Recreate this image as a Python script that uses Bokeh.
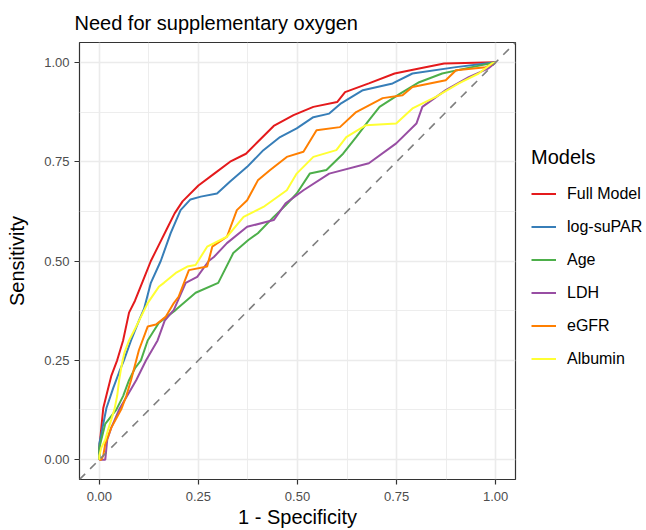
from bokeh.plotting import figure
from bokeh.layouts import row
from bokeh.models import FixedTicker, NumeralTickFormatter, Legend, LegendItem, Slope, Range1d
from bokeh.embed import file_html
from bokeh.resources import INLINE

title_text = "Need for supplementary oxygen"
x_label = "1 - Specificity"
y_label = "Sensitivity"
legend_title = "Models"
models = ["Full Model", "log-suPAR", "Age", "LDH", "eGFR", "Albumin"]
colors = ["#E41A1C", "#377EB8", "#4DAF4A", "#984EA3", "#FF7F00", "#FFFF33"]
tick_values = [0.0, 0.25, 0.5, 0.75, 1.0]
minor_values = [0.125, 0.375, 0.625, 0.875]

full_fpr = [0, 0, 0.005, 0.01, 0.02, 0.03, 0.045, 0.06, 0.075, 0.09, 0.11, 0.13, 0.15, 0.17, 0.19, 0.21,
            0.25, 0.29, 0.33, 0.37, 0.40, 0.44, 0.49, 0.54, 0.60, 0.62, 0.68, 0.745, 0.81, 0.87, 1.0]
full_tpr = [0, 0.03, 0.08, 0.13, 0.17, 0.21, 0.25, 0.30, 0.37, 0.40, 0.45, 0.50, 0.54, 0.58, 0.62, 0.65,
            0.69, 0.72, 0.75, 0.77, 0.80, 0.84, 0.867, 0.888, 0.90, 0.925, 0.947, 0.972, 0.985, 0.997, 1.0]

supar_fpr = [0, 0, 0.008, 0.018, 0.035, 0.05, 0.062, 0.08, 0.10, 0.113, 0.13, 0.155, 0.18, 0.205, 0.23,
             0.256, 0.297, 0.33, 0.373, 0.414, 0.456, 0.498, 0.54, 0.58, 0.61, 0.665, 0.74, 0.79, 0.90, 0.975, 1.0]
supar_tpr = [0, 0.04, 0.08, 0.13, 0.18, 0.22, 0.25, 0.30, 0.35, 0.38, 0.445, 0.50, 0.57, 0.628, 0.655,
             0.662, 0.67, 0.70, 0.737, 0.779, 0.812, 0.834, 0.862, 0.871, 0.897, 0.93, 0.947, 0.972, 0.988, 0.997, 1.0]

age_fpr = [0, 0, 0.005, 0.015, 0.043, 0.06, 0.075, 0.09, 0.105, 0.122, 0.15, 0.193, 0.243, 0.30, 0.338,
           0.376, 0.40, 0.44, 0.47, 0.498, 0.531, 0.573, 0.615, 0.648, 0.68, 0.707, 0.757, 0.807, 0.865, 0.94, 1.0]
age_tpr = [0, 0.03, 0.05, 0.09, 0.126, 0.16, 0.20, 0.23, 0.25, 0.30, 0.344, 0.377, 0.42, 0.445, 0.52,
           0.553, 0.57, 0.611, 0.64, 0.67, 0.72, 0.729, 0.77, 0.812, 0.854, 0.888, 0.92, 0.95, 0.972, 0.988, 1.0]

ldh_fpr = [0, 0.015, 0.018, 0.02, 0.03, 0.05, 0.07, 0.093, 0.118, 0.147, 0.165, 0.188, 0.218, 0.247, 0.276,
           0.289, 0.322, 0.373, 0.44, 0.47, 0.515, 0.58, 0.68, 0.749, 0.80, 0.815, 0.874, 0.932, 0.982, 1.0]
ldh_tpr = [0, 0, 0.03, 0.05, 0.08, 0.126, 0.16, 0.20, 0.25, 0.30, 0.35, 0.377, 0.445, 0.46, 0.50,
           0.51, 0.545, 0.586, 0.603, 0.645, 0.678, 0.72, 0.746, 0.796, 0.846, 0.888, 0.93, 0.963, 0.985, 1.0]

egfr_fpr = [0, 0.005, 0.01, 0.015, 0.03, 0.055, 0.068, 0.08, 0.10, 0.122, 0.143, 0.168, 0.188, 0.20, 0.226,
            0.272, 0.285, 0.322, 0.347, 0.373, 0.40, 0.431, 0.473, 0.515, 0.548, 0.607, 0.648, 0.715, 0.765,
            0.79, 0.874, 0.90, 0.975, 1.0]
egfr_tpr = [0, 0, 0.01, 0.04, 0.08, 0.126, 0.16, 0.20, 0.276, 0.335, 0.34, 0.36, 0.394, 0.41, 0.477,
            0.486, 0.536, 0.561, 0.628, 0.653, 0.703, 0.729, 0.762, 0.775, 0.829, 0.837, 0.875, 0.91, 0.917,
            0.938, 0.955, 0.98, 0.988, 1.0]

alb_fpr = [0, 0, 0.005, 0.015, 0.022, 0.03, 0.038, 0.045, 0.05, 0.055, 0.059, 0.063, 0.075, 0.093, 0.122,
           0.15, 0.163, 0.193, 0.222, 0.243, 0.272, 0.322, 0.364, 0.414, 0.473, 0.498, 0.54, 0.598, 0.623,
           0.673, 0.749, 0.79, 0.849, 0.907, 0.957, 0.99, 1.0]
alb_tpr = [0, 0.01, 0.03, 0.05, 0.075, 0.10, 0.126, 0.16, 0.20, 0.23, 0.25, 0.268, 0.30, 0.335, 0.394,
           0.435, 0.445, 0.47, 0.486, 0.49, 0.536, 0.561, 0.611, 0.636, 0.678, 0.72, 0.762, 0.779, 0.812,
           0.842, 0.846, 0.884, 0.913, 0.947, 0.972, 0.997, 1.0]

series = [(full_fpr, full_tpr), (supar_fpr, supar_tpr), (age_fpr, age_tpr),
          (ldh_fpr, ldh_tpr), (egfr_fpr, egfr_tpr), (alb_fpr, alb_tpr)]

FONT = "Liberation Sans"

p = figure(width=521, height=530, x_range=(-0.05, 1.05), y_range=(-0.05, 1.05),
           toolbar_location=None, output_backend="svg",
           min_border_left=79, min_border_right=6, min_border_top=42, min_border_bottom=51,
           background_fill_color="white", border_fill_color="white")

p.title.text = title_text
p.title.text_font = FONT
p.title.text_font_size = "20px"
p.title.text_font_style = "normal"
p.title.text_color = "black"
p.title.align = "left"
p.title.vertical_align = "bottom"
p.title.standoff = 18
p.title.offset = -5

p.outline_line_color = "#333333"
p.outline_line_width = 1.2

for ax, lab in ((p.xaxis[0], x_label), (p.yaxis[0], y_label)):
    ax.ticker = FixedTicker(ticks=tick_values, minor_ticks=minor_values)
    ax.formatter = NumeralTickFormatter(format="0.00")
    ax.axis_label = lab
    ax.axis_label_text_font = FONT
    ax.axis_label_text_font_size = "20px"
    ax.axis_label_text_font_style = "normal"
    ax.axis_label_text_color = "black"
    ax.major_label_text_font = FONT
    ax.major_label_text_font_size = "13px"
    ax.major_label_text_color = "#4D4D4D"
    ax.axis_line_color = None
    ax.major_tick_line_color = "#333333"
    ax.major_tick_line_width = 1.2
    ax.major_tick_in = 0
    ax.major_tick_out = 5
    ax.minor_tick_line_color = None

p.xaxis[0].major_label_standoff = 7
p.xaxis[0].axis_label_standoff = 2
p.yaxis[0].major_label_standoff = 5
p.yaxis[0].axis_label_standoff = 13

for g in (p.xgrid[0], p.ygrid[0]):
    g.ticker = FixedTicker(ticks=tick_values, minor_ticks=minor_values)
    g.grid_line_color = "#EBEBEB"
    g.grid_line_width = 1.6
    g.minor_grid_line_color = "#EBEBEB"
    g.minor_grid_line_width = 0.9

diag = Slope(gradient=1, y_intercept=0, line_color="#7F7F7F", line_width=1.6, line_dash="8 7")
p.add_layout(diag)

# legend panel: a bare figure holding only the legend (its copies of the lines lie outside its view)
lp = figure(width=125, height=530, toolbar_location=None, output_backend="svg",
            x_range=Range1d(5, 6), y_range=Range1d(5, 6),
            min_border_left=0, min_border_right=0, min_border_top=0, min_border_bottom=0,
            outline_line_color=None, background_fill_color="white", border_fill_color="white")
lp.axis.visible = False
lp.grid.visible = False

items = []
for name, col, (fx, ty) in zip(models, colors, series):
    p.line(fx, ty, line_color=col, line_width=2)
    key = lp.line(fx, ty, line_color=col, line_width=2)
    items.append(LegendItem(label=name, renderers=[key]))

legend = Legend(items=items, title=legend_title, location=(10, 110),
                title_text_font=FONT, title_text_font_size="20px", title_text_color="black",
                title_text_font_style="normal", title_standoff=14,
                label_text_font=FONT, label_text_font_size="16px", label_text_color="black",
                glyph_width=25, glyph_height=21, label_height=21, label_standoff=11, spacing=12,
                padding=10, margin=0, border_line_color=None, background_fill_alpha=0)
lp.add_layout(legend)

layout = row(p, lp, spacing=0)
open("out.html", "w").write(file_html(layout, INLINE))
